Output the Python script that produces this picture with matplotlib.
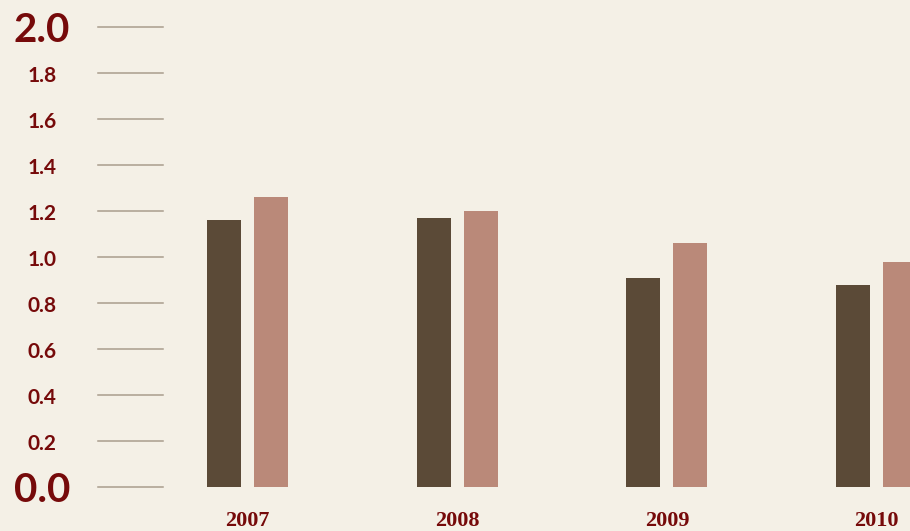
import matplotlib.pyplot as plt
import matplotlib.transforms as mtransforms

years = ['2007', '2008', '2009', '2010']
series_a = [1.16, 1.17, 0.91, 0.88]
series_b = [1.26, 1.20, 1.06, 0.98]
ticks = [0.0, 0.2, 0.4, 0.6, 0.8, 1.0, 1.2, 1.4, 1.6, 1.8, 2.0]

BG = '#f4f0e6'
DARK = '#5b4a37'
ROSE = '#ba8979'
RED = '#760a0a'
GRID = '#a99d8d'

W, H = 910, 531
fig = plt.figure(figsize=(W / 100, H / 100), dpi=100, facecolor=BG)

# axes placed in pixel terms: y 0 -> 487px, y 2 -> 27px (from top)
y0_px, y2_px = 487, 27
px = 2.0 / (y0_px - y2_px)   # data units per pixel in y
ax = fig.add_axes([0, (H - y0_px) / H, 1, (y0_px - y2_px) / H])
ax.set_facecolor(BG)

step = 209.7            # px between groups
first_center = 247.5    # px centre of 2007 group
off = 23.5 / step
bw = 34 / step

xs = list(range(len(years)))
ax.bar([x - off for x in xs], series_a, width=bw, color=DARK, zorder=2)
ax.bar([x + off for x in xs], series_b, width=bw, color=ROSE, zorder=2)

ax.set_xlim(-first_center / step, (W - first_center) / step)
ax.set_ylim(0, 2.0)
ax.axis('off')

# short guide lines beside the labels
trans = mtransforms.blended_transform_factory(ax.transAxes, ax.transData)
for t in ticks:
    ax.plot([98 / W, 163 / W], [t, t], color=GRID, lw=1.1, transform=trans,
            clip_on=False, zorder=1)
    big = t in (0.0, 2.0)
    ax.text(42 / W, t - (15 if big else 9) * px, f'{t:.1f}', transform=trans,
            ha='center', va='baseline', color=RED,
            fontsize=29 if big else 15, fontweight='bold',
            family='Lato', clip_on=False)

# year labels, nudged a touch up so they sit inside the canvas
for x, yr in zip(xs, years):
    ax.text(x, -39 * px, yr, ha='center', va='baseline', color=RED,
            fontsize=16, fontweight='bold', family='Liberation Serif',
            clip_on=False)

fig.savefig('out.png', dpi=100, facecolor=BG)
